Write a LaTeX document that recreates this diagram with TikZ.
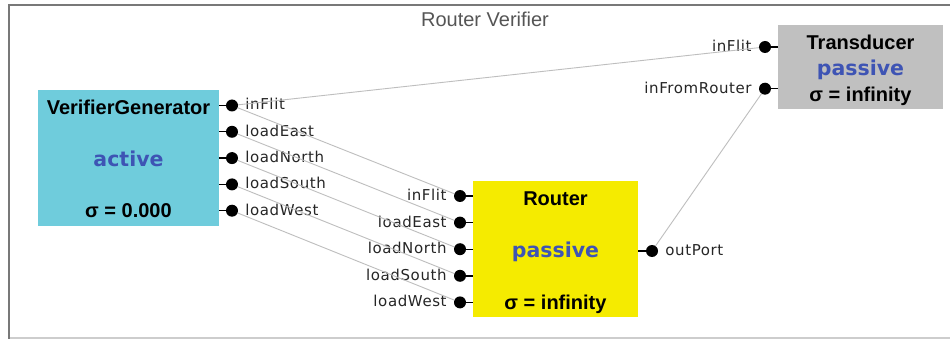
\documentclass[tikz,border=0pt]{standalone}
\usepackage{fontspec}
\setmainfont{Liberation Sans}
\newfontfamily\portfont{DejaVu Sans}
\newfontfamily\spacedfont{DejaVu Sans}[LetterSpace=4]
\usetikzlibrary{positioning}
\definecolor{skyblue}{RGB}{111, 204, 220}
\definecolor{lemon}{RGB}{245, 235, 0}
\definecolor{silver}{RGB}{192, 192, 192}
\definecolor{cobalt}{RGB}{62, 84, 180}
\definecolor{wiregray}{RGB}{190, 190, 190}
\definecolor{framedark}{RGB}{120, 120, 120}
\definecolor{framelight}{RGB}{205, 205, 205}
\definecolor{captiongray}{RGB}{85, 85, 85}

\tikzset{
  model/.style={rectangle, inner sep=0pt, draw=none},
  port/.style={circle, fill=black, inner sep=0pt, minimum size=12pt},
  stub/.style={black, line width=1.4pt},
  wire/.style={wiregray, line width=0.9pt},
  portlabel/.style={inner sep=0pt, text height=9pt, text depth=0pt, text=black!85,
                    font=\spacedfont\fontsize{15}{18}\selectfont},
  modelname/.style={inner sep=0pt, anchor=base, font=\fontsize{20}{23}\selectfont\bfseries},
  modelstate/.style={inner sep=0pt, anchor=base, text=cobalt,
                     font=\portfont\fontsize{20.5}{24}\selectfont\bfseries},
}

\begin{document}
\begin{tikzpicture}[x=1pt, y=-1pt]
            \useasboundingbox (0, 0) rectangle (950, 339);
            \fill[white]                                   (0, 0) rectangle (950, 339);
            \draw[framedark, line width=2pt]               (9, 339) -- (9, 5) -- (950, 5);
            \draw[framelight, line width=1.5pt]            (10, 338) -- (950, 338);
            \node[inner sep=0pt, anchor=base, text=captiongray, font=\fontsize{20}{24}\selectfont]
                 (caption) at (485, 26.5) {Router Verifier};

            \node[model, fill=skyblue, minimum width=181pt, minimum height=136pt] (gen)    at (128.5, 158) {};
            \node[model, fill=lemon,   minimum width=165pt, minimum height=136pt] (router) at (555.5, 249) {};
            \node[model, fill=silver,  minimum width=165pt, minimum height=84pt]  (trans)  at (860.5,  67) {};

            \node[modelname]  (gen-name)     at (128.5, 114.3) {VerifierGenerator};
            \node[modelstate] (gen-state)    at (128.5, 167.0) {active};
            \node[modelname]  (gen-sigma)    at (128.5, 218.0) {σ = 0.000};
            \node[modelname]  (router-name)  at (555.5, 205.7) {Router};
            \node[modelstate] (router-state) at (555.5, 257.3) {passive};
            \node[modelname]  (router-sigma) at (555.5, 309.3) {σ = infinity};
            \node[modelname]  (trans-name)   at (860.5,  50.0) {Transducer};
            \node[modelstate] (trans-state)  at (860.5,  76.0) {passive};
            \node[modelname]  (trans-sigma)  at (860.5, 101.7) {σ = infinity};

            \node[port] (gen-inFlit)       at (232, 105.5) {};
            \node[port] (gen-loadEast)     at (232, 131.8) {};
            \node[port] (gen-loadNorth)    at (232, 158.1) {};
            \node[port] (gen-loadSouth)    at (232, 184.4) {};
            \node[port] (gen-loadWest)     at (232, 210.7) {};
            \node[port] (router-inFlit)    at (460, 196.0) {};
            \node[port] (router-loadEast)  at (460, 222.6) {};
            \node[port] (router-loadNorth) at (460, 249.2) {};
            \node[port] (router-loadSouth) at (460, 275.8) {};
            \node[port] (router-loadWest)  at (460, 302.4) {};
            \node[port] (router-outPort)   at (652, 251.0) {};
            \node[port] (trans-inFlit)     at (765,  47.0) {};
            \node[port] (trans-inRouter)   at (765,  88.7) {};

            \draw[stub] (gen-inFlit)       -- (gen.east |- gen-inFlit);
            \draw[stub] (gen-loadEast)     -- (gen.east |- gen-loadEast);
            \draw[stub] (gen-loadNorth)    -- (gen.east |- gen-loadNorth);
            \draw[stub] (gen-loadSouth)    -- (gen.east |- gen-loadSouth);
            \draw[stub] (gen-loadWest)     -- (gen.east |- gen-loadWest);
            \draw[stub] (router-inFlit)    -- (router.west |- router-inFlit);
            \draw[stub] (router-loadEast)  -- (router.west |- router-loadEast);
            \draw[stub] (router-loadNorth) -- (router.west |- router-loadNorth);
            \draw[stub] (router-loadSouth) -- (router.west |- router-loadSouth);
            \draw[stub] (router-loadWest)  -- (router.west |- router-loadWest);
            \draw[stub] (router-outPort)   -- (router.east |- router-outPort);
            \draw[stub] (trans-inFlit)     -- (trans.west |- trans-inFlit);
            \draw[stub] (trans-inRouter)   -- (trans.west |- trans-inRouter);

            \node[portlabel, right=7pt of gen-inFlit]       {inFlit};
            \node[portlabel, right=7pt of gen-loadEast]     {loadEast};
            \node[portlabel, right=7pt of gen-loadNorth]    {loadNorth};
            \node[portlabel, right=7pt of gen-loadSouth]    {loadSouth};
            \node[portlabel, right=7pt of gen-loadWest]     {loadWest};
            \node[portlabel, left=7pt of router-inFlit]     {inFlit};
            \node[portlabel, left=7pt of router-loadEast]   {loadEast};
            \node[portlabel, left=7pt of router-loadNorth]  {loadNorth};
            \node[portlabel, left=7pt of router-loadSouth]  {loadSouth};
            \node[portlabel, left=7pt of router-loadWest]   {loadWest};
            \node[portlabel, right=7pt of router-outPort]   {outPort};
            \node[portlabel, left=7pt of trans-inFlit]      {inFlit};
            \node[portlabel, left=7pt of trans-inRouter]    {inFromRouter};

            \draw[wire] (gen-inFlit)     -- (trans-inFlit);
            \draw[wire] (gen-inFlit)     -- (router-inFlit);
            \draw[wire] (gen-loadEast)   -- (router-loadEast);
            \draw[wire] (gen-loadNorth)  -- (router-loadNorth);
            \draw[wire] (gen-loadSouth)  -- (router-loadSouth);
            \draw[wire] (gen-loadWest)   -- (router-loadWest);
            \draw[wire] (router-outPort) -- (trans-inRouter);
        \end{tikzpicture}
\end{document}
